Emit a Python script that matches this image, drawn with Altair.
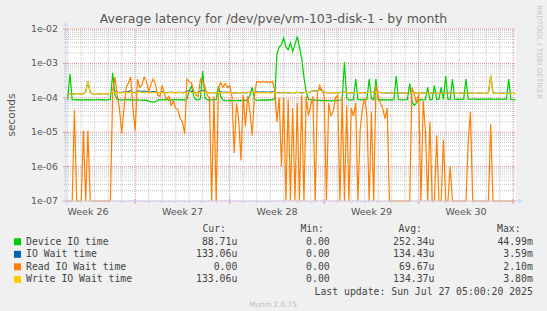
import altair as alt
import pandas as pd

# sample times: hours since Sun 22 Jun 2025 00:00 (4-hour steps)
HOURS = list(range(48, 845, 4))

DEVICE = [
    8.8e-5, 4.9e-4, 8.8e-5, 8.7e-5, 8.9e-5, 8.7e-5, 8.8e-5, 8.6e-5, 8.8e-5, 8.7e-5,
    8.8e-5, 8.6e-5, 8.7e-5, 8.8e-5, 8.9e-5, 8.7e-5, 8.8e-5, 8.6e-5, 8.8e-5, 9.0e-5,
    5.3e-4, 1.2e-4, 9.0e-5, 8.8e-5, 8.6e-5, 8.8e-5, 8.9e-5, 8.7e-5, 8.8e-5, 8.6e-5,
    8.7e-5, 8.8e-5, 8.5e-5, 8.6e-5, 8.4e-5, 8.5e-5, 8.0e-5, 7.6e-5, 7.5e-5, 7.7e-5,
    8.6e-5, 8.8e-5, 8.7e-5, 8.9e-5, 8.8e-5, 8.6e-5, 8.8e-5, 8.7e-5, 8.9e-5, 8.8e-5,
    8.7e-5, 8.8e-5, 8.6e-5, 9.0e-5, 1.6e-4, 2.2e-4, 1.1e-4, 8.8e-5, 8.7e-5, 9.5e-5,
    6.0e-4, 1.0e-4, 8.8e-5, 8.6e-5, 8.7e-5, 8.8e-5, 9.0e-5, 2.2e-4, 1.1e-4, 8.6e-5,
    8.3e-5, 8.2e-5, 8.4e-5, 8.1e-5, 8.3e-5, 8.2e-5, 8.4e-5, 8.3e-5, 8.5e-5, 8.4e-5,
    8.6e-5, 1.2e-4, 2.0e-4, 9.0e-5, 8.6e-5, 8.5e-5, 8.7e-5, 8.6e-5, 8.7e-5, 8.6e-5,
    8.8e-5, 8.7e-5, 9.5e-5, 1.9e-3, 3.0e-3, 3.5e-3, 5.5e-3, 3.0e-3, 2.5e-3, 4.0e-3,
    2.2e-3, 3.5e-3, 6.0e-3, 3.0e-3, 1.4e-3, 4.0e-4, 1.5e-4, 9.0e-5, 8.8e-5, 8.7e-5,
    8.6e-5, 8.5e-5, 8.4e-5, 8.3e-5, 8.2e-5, 8.3e-5, 8.2e-5, 8.1e-5, 8.3e-5, 8.2e-5,
    8.4e-5, 8.5e-5, 8.6e-5, 1.1e-3, 1.0e-4, 8.6e-5, 8.7e-5, 8.8e-5, 3.5e-4, 9.0e-5,
    8.8e-5, 8.9e-5, 8.8e-5, 9.0e-5, 3.5e-4, 9.5e-5, 8.8e-5, 3.5e-4, 8.6e-5, 8.8e-5,
    8.7e-5, 8.8e-5, 8.6e-5, 8.8e-5, 8.7e-5, 8.9e-5, 4.3e-4, 9.0e-5, 8.8e-5, 8.7e-5,
    8.8e-5, 9.0e-5, 2.6e-4, 8.0e-5, 6.0e-5, 7.0e-5, 8.6e-5, 8.8e-5, 8.7e-5, 8.9e-5,
    2.0e-4, 8.8e-5, 9.0e-5, 2.3e-4, 8.9e-5, 9.1e-5, 2.0e-4, 9.0e-5, 4.3e-4, 9.1e-5,
    9.0e-5, 3.5e-4, 9.2e-5, 9.0e-5, 9.1e-5, 9.0e-5, 9.2e-5, 3.5e-4, 9.1e-5, 9.0e-5,
    9.2e-5, 9.1e-5, 9.0e-5, 9.2e-5, 9.1e-5, 9.0e-5, 9.2e-5, 9.1e-5, 9.3e-5, 9.1e-5,
    9.0e-5, 9.2e-5, 9.1e-5, 9.0e-5, 9.2e-5, 9.1e-5, 3.5e-4, 9.0e-5, 8.9e-5, 8.87e-5,
]

IOWAIT = [
    1.29e-4, 1.31e-4, 1.29e-4, 1.32e-4, 1.33e-4, 1.31e-4, 1.29e-4, 1.31e-4, 1.51e-4, 3.0e-4,
    1.41e-4, 1.31e-4, 1.33e-4, 1.31e-4, 1.29e-4, 1.31e-4, 1.33e-4, 1.31e-4, 1.29e-4, 1.36e-4,
    1.75e-4, 1.55e-4, 1.45e-4, 1.45e-4, 1.42e-4, 1.48e-4, 1.50e-4, 1.52e-4, 1.62e-4, 1.45e-4,
    1.42e-4, 1.55e-4, 1.58e-4, 1.50e-4, 1.60e-4, 1.52e-4, 1.45e-4, 1.48e-4, 1.52e-4, 1.48e-4,
    1.42e-4, 1.44e-4, 1.50e-4, 1.44e-4, 1.42e-4, 1.44e-4, 1.45e-4, 1.43e-4, 1.41e-4, 1.43e-4,
    1.43e-4, 1.41e-4, 1.43e-4, 1.55e-4, 1.58e-4, 1.52e-4, 1.45e-4, 1.42e-4, 1.43e-4, 1.55e-4,
    1.62e-4, 1.50e-4, 1.43e-4, 1.41e-4, 1.42e-4, 1.41e-4, 1.42e-4, 1.50e-4, 1.48e-4, 1.44e-4,
    1.46e-4, 1.43e-4, 1.45e-4, 1.41e-4, 1.38e-4, 1.41e-4, 1.42e-4, 1.40e-4, 1.43e-4, 1.40e-4,
    1.43e-4, 1.45e-4, 1.50e-4, 1.43e-4, 1.48e-4, 1.47e-4, 1.46e-4, 1.48e-4, 1.46e-4, 1.47e-4,
    1.46e-4, 1.48e-4, 1.47e-4, 1.40e-4, 1.40e-4, 1.40e-4, 1.43e-4, 1.40e-4, 1.39e-4, 1.40e-4,
    1.42e-4, 1.40e-4, 1.45e-4, 1.40e-4, 1.40e-4, 1.40e-4, 1.46e-4, 1.42e-4, 1.50e-4, 1.62e-4,
    1.55e-4, 1.62e-4, 1.80e-4, 1.60e-4, 1.46e-4, 1.42e-4, 1.41e-4, 1.42e-4, 1.40e-4, 1.43e-4,
    1.41e-4, 1.42e-4, 1.46e-4, 1.50e-4, 1.42e-4, 1.40e-4, 1.42e-4, 1.40e-4, 1.45e-4, 1.42e-4,
    1.40e-4, 1.42e-4, 1.41e-4, 1.42e-4, 1.45e-4, 1.42e-4, 1.50e-4, 1.60e-4, 1.46e-4, 1.42e-4,
    1.40e-4, 1.38e-4, 1.40e-4, 1.38e-4, 1.36e-4, 1.38e-4, 1.40e-4, 1.38e-4, 1.36e-4, 1.38e-4,
    1.36e-4, 1.38e-4, 1.40e-4, 1.50e-4, 1.44e-4, 1.40e-4, 1.43e-4, 1.38e-4, 1.36e-4, 1.38e-4,
    1.36e-4, 1.38e-4, 1.36e-4, 1.38e-4, 1.36e-4, 1.35e-4, 1.38e-4, 1.36e-4, 1.40e-4, 1.38e-4,
    1.36e-4, 1.38e-4, 1.36e-4, 1.35e-4, 1.36e-4, 1.38e-4, 1.36e-4, 1.38e-4, 1.36e-4, 1.38e-4,
    1.36e-4, 1.35e-4, 1.36e-4, 1.38e-4, 1.36e-4, 1.35e-4, 1.36e-4, 1.38e-4, 4.4e-4, 1.40e-4,
    1.36e-4, 1.35e-4, 1.36e-4, 1.38e-4, 1.36e-4, 1.35e-4, 1.36e-4, 1.35e-4, 1.34e-4, 1.33e-4,
]

READ = [
    0, 0, 0, 4.5e-5, 0, 0, 0, 1.1e-5, 0, 1.1e-5,
    0, 0, 0, 0, 0, 0, 0, 0, 0, 0,
    1.5e-4, 4.0e-4, 1.2e-4, 5.0e-5, 9.0e-6, 5.0e-5, 2.0e-4, 2.7e-4, 4.0e-4, 5.0e-5,
    1.1e-5, 3.5e-4, 2.0e-4, 2.4e-4, 4.0e-4, 3.0e-4, 1.5e-4, 2.5e-4, 3.5e-4, 2.5e-4,
    1.2e-4, 1.1e-4, 2.3e-4, 1.3e-4, 9.0e-5, 1.1e-4, 6.0e-5, 8.0e-5, 5.0e-5, 4.5e-5,
    2.5e-5, 2.0e-5, 9.0e-6, 3.5e-4, 3.0e-4, 2.7e-4, 1.6e-4, 1.2e-4, 1.1e-4, 3.5e-4,
    3.0e-4, 2.1e-4, 1.2e-4, 1.0e-4, 0, 1.1e-4, 0, 1.9e-4, 2.8e-4, 2.0e-4,
    2.6e-4, 2.0e-4, 2.3e-4, 1.1e-4, 2.5e-6, 7.0e-5, 2.4e-5, 1.5e-6, 1.2e-4, 1.5e-5,
    1.1e-4, 4.0e-5, 8.0e-6, 1.2e-4, 3.0e-4, 2.9e-4, 2.8e-4, 3.0e-4, 2.8e-4, 2.9e-4,
    2.8e-4, 3.0e-4, 1.7e-4, 2.0e-5, 1.0e-4, 1.0e-6, 1.0e-4, 0, 9.0e-5, 0,
    5.0e-5, 0, 7.0e-5, 0, 1.2e-4, 0, 1.1e-4, 3.0e-5, 6.0e-5, 1.1e-4,
    0, 1.3e-4, 2.3e-4, 1.7e-4, 1.1e-4, 0, 7.0e-5, 3.0e-5, 4.0e-5, 1.0e-4,
    1.2e-4, 0, 1.1e-4, 0, 6.0e-5, 0, 5.0e-5, 3.0e-5, 7.0e-5, 0,
    1.2e-5, 5.0e-5, 1.0e-4, 3.0e-5, 0, 4.0e-5, 0, 2.3e-4, 1.1e-4, 7.0e-5,
    5.0e-5, 2.5e-5, 5.0e-5, 0, 0, 0, 0, 0, 0, 0,
    0, 0, 0, 2.0e-4, 1.3e-4, 7.0e-5, 1.3e-4, 0, 8.0e-5, 1.1e-5,
    0, 2.0e-5, 0, 0, 8.0e-6, 0, 0, 6.0e-6, 0, 0,
    1.0e-6, 0, 0, 0, 0, 0, 0, 0, 5.0e-6, 4.0e-5,
    0, 0, 0, 0, 0, 0, 0, 0, 1.7e-5, 0,
    0, 0, 0, 0, 0, 0, 0, 0, 0, 0,
]

WRITE = [
    1.28e-4, 1.30e-4, 1.28e-4, 1.30e-4, 1.32e-4, 1.30e-4, 1.28e-4, 1.30e-4, 1.50e-4, 3.0e-4,
    1.40e-4, 1.30e-4, 1.32e-4, 1.30e-4, 1.28e-4, 1.30e-4, 1.32e-4, 1.30e-4, 1.28e-4, 1.35e-4,
    1.70e-4, 1.45e-4, 1.40e-4, 1.42e-4, 1.40e-4, 1.45e-4, 1.42e-4, 1.40e-4, 1.48e-4, 1.42e-4,
    1.40e-4, 1.45e-4, 1.50e-4, 1.42e-4, 1.40e-4, 1.45e-4, 1.42e-4, 1.40e-4, 1.44e-4, 1.42e-4,
    1.40e-4, 1.42e-4, 1.45e-4, 1.42e-4, 1.40e-4, 1.42e-4, 1.44e-4, 1.42e-4, 1.40e-4, 1.42e-4,
    1.42e-4, 1.40e-4, 1.42e-4, 1.45e-4, 1.50e-4, 1.45e-4, 1.42e-4, 1.40e-4, 1.42e-4, 1.45e-4,
    1.55e-4, 1.45e-4, 1.42e-4, 1.40e-4, 1.42e-4, 1.40e-4, 1.42e-4, 1.45e-4, 1.42e-4, 1.40e-4,
    1.42e-4, 1.40e-4, 1.42e-4, 1.40e-4, 1.38e-4, 1.40e-4, 1.42e-4, 1.40e-4, 1.42e-4, 1.40e-4,
    1.42e-4, 1.45e-4, 1.50e-4, 1.42e-4, 1.40e-4, 1.42e-4, 1.40e-4, 1.42e-4, 1.40e-4, 1.42e-4,
    1.40e-4, 1.42e-4, 1.45e-4, 1.40e-4, 1.38e-4, 1.40e-4, 1.42e-4, 1.40e-4, 1.38e-4, 1.40e-4,
    1.42e-4, 1.40e-4, 1.45e-4, 1.40e-4, 1.38e-4, 1.40e-4, 1.45e-4, 1.42e-4, 1.50e-4, 1.60e-4,
    1.55e-4, 1.60e-4, 1.70e-4, 1.55e-4, 1.45e-4, 1.42e-4, 1.40e-4, 1.42e-4, 1.40e-4, 1.42e-4,
    1.40e-4, 1.42e-4, 1.45e-4, 1.50e-4, 1.42e-4, 1.40e-4, 1.42e-4, 1.40e-4, 1.45e-4, 1.42e-4,
    1.40e-4, 1.42e-4, 1.40e-4, 1.42e-4, 1.45e-4, 1.42e-4, 1.50e-4, 1.55e-4, 1.45e-4, 1.42e-4,
    1.40e-4, 1.38e-4, 1.40e-4, 1.38e-4, 1.36e-4, 1.38e-4, 1.40e-4, 1.38e-4, 1.36e-4, 1.38e-4,
    1.36e-4, 1.38e-4, 1.40e-4, 1.45e-4, 1.42e-4, 1.40e-4, 1.42e-4, 1.38e-4, 1.36e-4, 1.38e-4,
    1.36e-4, 1.38e-4, 1.36e-4, 1.38e-4, 1.36e-4, 1.35e-4, 1.38e-4, 1.36e-4, 1.40e-4, 1.38e-4,
    1.36e-4, 1.38e-4, 1.36e-4, 1.35e-4, 1.36e-4, 1.38e-4, 1.36e-4, 1.38e-4, 1.36e-4, 1.38e-4,
    1.36e-4, 1.35e-4, 1.36e-4, 1.38e-4, 1.36e-4, 1.35e-4, 1.36e-4, 1.38e-4, 4.4e-4, 1.40e-4,
    1.36e-4, 1.35e-4, 1.36e-4, 1.38e-4, 1.36e-4, 1.35e-4, 1.36e-4, 1.35e-4, 1.34e-4, 1.33e-4,
]

SERIES = ["Device IO time", "IO Wait time", "Read IO Wait time", "Write IO Wait time"]
COLORS = ["#00CC00", "#0066B3", "#FF8000", "#FFCC00"]
CUR = ["88.71u", "133.06u", "0.00", "133.06u"]
MINV = ["0.00", "0.00", "0.00", "0.00"]
AVG = ["252.34u", "134.43u", "69.67u", "134.37u"]
MAXV = ["44.99m", "3.59m", "2.10m", "3.80m"]
HEADERS = ["Cur:", "Min:", "Avg:", "Max:"]

TITLE = "Average latency for /dev/pve/vm-103-disk-1 - by month"
Y_TITLE = "seconds"
LAST_UPDATE = "Last update: Sun Jul 27 05:00:20 2025"
MUNIN = "Munin 2.0.75"
RRD = "RRDTOOL / TOBI OETIKER"

WEEK_POS = [84, 252, 420, 588, 756]
WEEK_LABELS = ["Week 26", "Week 27", "Week 28", "Week 29", "Week 30"]
WEEK_LINES = [168, 336, 504, 672, 840]
DAY_LINES = [48, 72, 96, 120, 144, 192, 216, 240, 264, 288, 312, 360, 384, 408, 432,
             456, 480, 528, 552, 576, 600, 624, 648, 696, 720, 744, 768, 792, 816]
Y_MAJOR = [1e-7, 1e-6, 1e-5, 1e-4, 1e-3, 1e-2]
Y_LABELS = ["1e-07", "1e-06", "1e-05", "1e-04", "1e-03", "1e-02"]
Y_MINOR = [m * 10.0 ** e for e in range(-7, -2) for m in range(2, 10)]

W, H = 450, 172
PAD_L, PAD_T = 66, 29
SANS = "DejaVu Sans"
MONO = "DejaVu Sans Mono"
FONT_C = "#555555"
AXIS_C = "#CFD6F8"
MINOR_C = "#c8c8c8"
MAJOR_C = "#e09090"

XS = alt.Scale(domain=[45, 845], nice=False, zero=False)
YS = alt.Scale(type="log", domain=[1e-7, 1e-2], clamp=True, nice=False)


def one():
    return pd.DataFrame({"t": [""]})


def label(text, x, y, **kw):
    return alt.Chart(pd.DataFrame({"t": [text]})).mark_text(**kw).encode(
        x=alt.value(x), y=alt.value(y), text="t:N")


def vrules(vals, color, y0, y1, dash=None):
    kw = {"strokeDash": dash} if dash else {}
    return alt.Chart(pd.DataFrame({"h": vals})).mark_rule(
        color=color, strokeWidth=1, **kw).encode(
        x=alt.X("h:Q", scale=XS, axis=None), y=alt.value(y0), y2=alt.value(y1))


def hrules(vals, color, x0, x1, dash=None):
    kw = {"strokeDash": dash} if dash else {}
    return alt.Chart(pd.DataFrame({"v": vals})).mark_rule(
        color=color, strokeWidth=1, **kw).encode(
        y=alt.Y("v:Q", scale=YS, axis=None), x=alt.value(x0), x2=alt.value(x1))


layers = []

# grid
layers.append(vrules(DAY_LINES, MINOR_C, 0, H, [1, 1]))
layers.append(hrules(Y_MINOR, MINOR_C, 0, W, [1, 1]))
layers.append(vrules(WEEK_LINES, MAJOR_C, 0, H, [1, 1]))
layers.append(hrules(Y_MAJOR, MAJOR_C, 0, W, [1, 1]))

# data lines
for vals, color in zip([DEVICE, IOWAIT, READ, WRITE], COLORS):
    df = pd.DataFrame({"h": HOURS, "v": [max(v, 1e-9) for v in vals]})
    layers.append(alt.Chart(df).mark_line(color=color, strokeWidth=1.2).encode(
        x=alt.X("h:Q", scale=XS, axis=None),
        y=alt.Y("v:Q", scale=YS, axis=None)))

# axes lines, tick marks + arrows
layers.append(vrules(DAY_LINES, MINOR_C, H, H + 2))
layers.append(vrules(WEEK_LINES, MAJOR_C, H - 2, H + 3))
layers.append(hrules(Y_MINOR, MINOR_C, -2, 0))
layers.append(hrules(Y_MAJOR, MAJOR_C, -3, 2))
layers.append(alt.Chart(one()).mark_rule(color=AXIS_C, strokeWidth=1).encode(
    x=alt.value(-4), x2=alt.value(W + 4), y=alt.value(H)))
layers.append(alt.Chart(one()).mark_rule(color=AXIS_C, strokeWidth=1).encode(
    x=alt.value(0), y=alt.value(H + 4), y2=alt.value(-4)))
layers.append(alt.Chart(one()).mark_point(shape="triangle-up", filled=True, size=22,
                                          color=AXIS_C, opacity=1).encode(
    x=alt.value(0), y=alt.value(-5)))
layers.append(alt.Chart(one()).mark_point(shape="triangle-right", filled=True, size=22,
                                          color=AXIS_C, opacity=1).encode(
    x=alt.value(W + 5), y=alt.value(H)))

# y tick labels
layers.append(alt.Chart(pd.DataFrame({"v": Y_MAJOR, "lab": Y_LABELS})).mark_text(
    align="right", baseline="middle", font=SANS, fontSize=9.33, color=FONT_C).encode(
    y=alt.Y("v:Q", scale=YS, axis=None), x=alt.value(-8), text="lab:N"))
# week labels
layers.append(alt.Chart(pd.DataFrame({"h": WEEK_POS, "lab": WEEK_LABELS})).mark_text(
    align="center", baseline="middle", font=SANS, fontSize=9.5, color=FONT_C).encode(
    x=alt.X("h:Q", scale=XS, axis=None), y=alt.value(H + 11), text="lab:N"))

# titles
layers.append(label(TITLE, 273.5 - PAD_L, 19 - PAD_T, align="center", baseline="middle",
                    font=SANS, fontSize=12.5, color=FONT_C))
layers.append(label(Y_TITLE, 12 - PAD_L, 115 - PAD_T, align="center", baseline="middle",
                    font=SANS, fontSize=10.5, color=FONT_C, angle=270))
layers.append(label(RRD, 539 - PAD_L, 52 - PAD_T, align="center", baseline="middle",
                    font=SANS, fontSize=7.3, color="#c8c8c8", angle=90))

# legend
ROW0 = 229.2
ROW_H = 12.55
HEAD_X = [226, 324, 422, 520.6]
VAL_X = [237.3, 329.7, 434.4, 532.8]
for hx, ht in zip(HEAD_X, HEADERS):
    layers.append(label(ht, hx - PAD_L, ROW0 - PAD_T, align="right", baseline="middle",
                        font=MONO, fontSize=9.8, color="#444444"))
for r, (name, color) in enumerate(zip(SERIES, COLORS)):
    yy = ROW0 + ROW_H * (r + 1) - PAD_T
    layers.append(alt.Chart(one()).mark_rect(color=color).encode(
        x=alt.value(14 - PAD_L), x2=alt.value(21 - PAD_L),
        y=alt.value(yy - 3.5), y2=alt.value(yy + 3.5)))
    layers.append(label(name, 26 - PAD_L, yy, align="left", baseline="middle",
                        font=MONO, fontSize=9.8, color="#444444"))
    for vx, col in zip(VAL_X, [CUR, MINV, AVG, MAXV]):
        layers.append(label(col[r], vx - PAD_L, yy, align="right", baseline="middle",
                            font=MONO, fontSize=9.8, color="#444444"))
layers.append(label(LAST_UPDATE, 532.8 - PAD_L, ROW0 + ROW_H * 5 - PAD_T, align="right",
                    baseline="middle", font=MONO, fontSize=9.8, color="#444444"))
layers.append(label(MUNIN, 273 - PAD_L, 305 - PAD_T, align="center", baseline="middle",
                    font=SANS, fontSize=7.3, color="#bbbbbb"))

chart = alt.layer(*layers).properties(
    width=W, height=H,
    padding={"left": PAD_L, "top": PAD_T, "right": 547 - PAD_L - W, "bottom": 311 - PAD_T - H},
    autosize=alt.AutoSizeParams(type="none"),
    background="#F0F0F0",
).configure_view(fill="white", stroke=None)

chart.save("out.html", embed_options={"renderer": "svg", "actions": False})
